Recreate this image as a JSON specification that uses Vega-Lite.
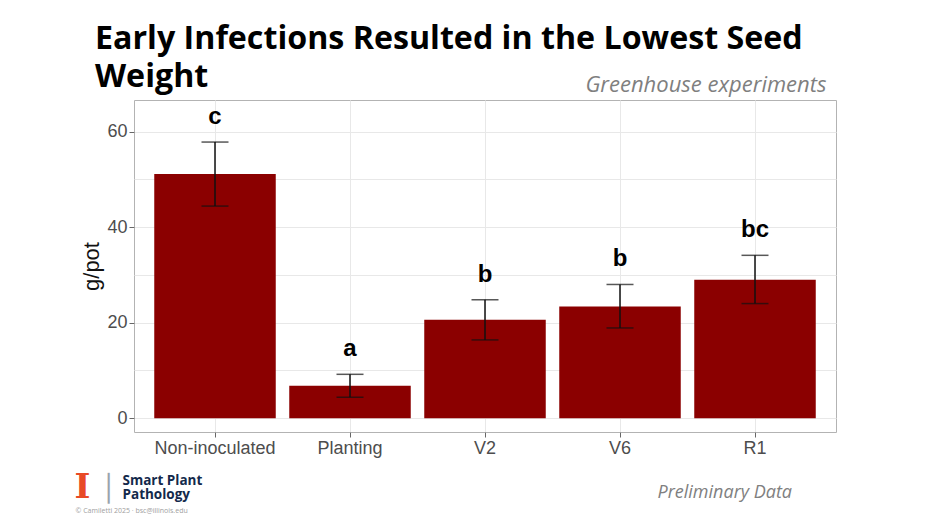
{
  "$schema": "https://vega.github.io/schema/vega-lite/v6.json",
  "width": 702,
  "height": 332,
  "autosize": {"type": "none"},
  "padding": {"left": 134, "top": 100, "right": 91, "bottom": 83},
  "background": "white",
  "title": {
    "text": ["Early Infections Resulted in the Lowest Seed", "Weight"],
    "anchor": "start",
    "frame": "group",
    "font": "Open Sans",
    "fontSize": 32.2,
    "fontWeight": "bold",
    "color": "#000000",
    "lineHeight": 37.5,
    "offset": 0,
    "dx": -39,
    "dy": 21
  },
  "data": {
    "values": [
      {"treatment": "Non-inoculated", "mean": 51.1, "lower": 44.4, "upper": 57.8, "letter": "c"},
      {"treatment": "Planting", "mean": 6.8, "lower": 4.4, "upper": 9.2, "letter": "a"},
      {"treatment": "V2", "mean": 20.6, "lower": 16.4, "upper": 24.8, "letter": "b"},
      {"treatment": "V6", "mean": 23.4, "lower": 18.9, "upper": 28.0, "letter": "b"},
      {"treatment": "R1", "mean": 29.0, "lower": 24.0, "upper": 34.1, "letter": "bc"}
    ]
  },
  "layer": [
    {
      "encoding": {
        "x": {
          "field": "treatment",
          "type": "nominal",
          "sort": null,
          "scale": {"paddingInner": 0.1, "paddingOuter": 0.15},
          "axis": {
            "orient": "bottom",
            "labelAngle": 0,
            "labelFont": "Liberation Sans",
            "labelFontSize": 18,
            "labelColor": "#4d4d4d",
            "labelPadding": 2,
            "tickSize": 5,
            "tickColor": "#666666",
            "domain": false,
            "grid": true,
            "gridColor": "#e8e8e8",
            "bandPosition": 0.5,
            "title": "Preliminary Data",
            "titleFont": "Open Sans",
            "titleFontStyle": "italic",
            "titleFontWeight": "normal",
            "titleFontSize": 18,
            "titleColor": "#808080",
            "titleAlign": "left",
            "titleAnchor": "start",
            "titleBaseline": "alphabetic",
            "titleX": 523,
            "titleY": 65
          }
        }
      },
      "layer": [
        {
          "mark": {"type": "bar", "color": "#8b0000"},
          "encoding": {
            "y": {
              "field": "mean",
              "type": "quantitative",
              "title": "g/pot",
              "scale": {"domain": [-2.87, 66.6], "nice": false, "zero": false},
              "axis": {
                "values": [0, 10, 20, 30, 40, 50, 60],
                "labelExpr": "datum.value % 20 == 0 ? datum.label : ''",
                "tickOpacity": {"condition": {"test": "datum.value % 20 == 0", "value": 1}, "value": 0},
                "tickSize": 5,
                "tickColor": "#666666",
                "domain": false,
                "grid": true,
                "gridColor": "#e8e8e8",
                "labelFont": "Liberation Sans",
                "labelFontSize": 18,
                "labelColor": "#4d4d4d",
                "labelPadding": 2,
                "titleFont": "Liberation Sans",
                "titleFontSize": 22,
                "titleFontWeight": "normal",
                "titleColor": "#111111",
                "titlePadding": 3
              }
            },
            "y2": {"datum": 0}
          }
        },
        {
          "mark": {"type": "rule", "color": "#111111", "strokeWidth": 1.5},
          "encoding": {
            "y": {"field": "lower", "type": "quantitative", "title": "g/pot"},
            "y2": {"field": "upper"}
          }
        },
        {
          "mark": {"type": "tick", "color": "#111111", "size": 27, "thickness": 1.5},
          "encoding": {
            "y": {"field": "upper", "type": "quantitative", "title": "g/pot"}
          }
        },
        {
          "mark": {"type": "tick", "color": "#111111", "size": 27, "thickness": 1.5},
          "encoding": {
            "y": {"field": "lower", "type": "quantitative", "title": "g/pot"}
          }
        },
        {
          "mark": {"type": "text", "font": "Liberation Sans", "fontWeight": "bold", "fontSize": 24, "color": "#000000", "baseline": "alphabetic", "dy": -18},
          "encoding": {
            "y": {"field": "upper", "type": "quantitative", "title": "g/pot"},
            "text": {"field": "letter"}
          }
        }
      ]
    },
    {
      "mark": {"type": "point", "opacity": 0},
      "encoding": {
        "x": {
          "field": "treatment",
          "type": "nominal",
          "sort": null,
          "axis": {
            "orient": "top",
            "labels": false,
            "ticks": false,
            "domain": false,
            "grid": false,
            "title": "Greenhouse experiments",
            "titleFont": "Open Sans",
            "titleFontStyle": "italic",
            "titleFontWeight": "normal",
            "titleFontSize": 22,
            "titleColor": "#7f7f7f",
            "titleAlign": "right",
            "titleAnchor": "end",
            "titleBaseline": "alphabetic",
            "titleX": 692,
            "titleY": -9
          }
        },
        "y": {
          "field": "mean",
          "type": "quantitative",
          "axis": {
            "orient": "right",
            "labels": false,
            "ticks": false,
            "domain": false,
            "grid": false,
            "title": ["Smart Plant", "Pathology"],
            "titleFont": "Open Sans",
            "titleFontWeight": "bold",
            "titleFontSize": 13.5,
            "titleColor": "#13294b",
            "titleAngle": 0,
            "titleAlign": "left",
            "titleAnchor": "start",
            "titleBaseline": "alphabetic",
            "titleLineHeight": 14,
            "titleX": -714,
            "titleY": 384.5
          }
        }
      }
    },
    {
      "mark": {"type": "point", "opacity": 0},
      "encoding": {
        "x": {
          "field": "treatment",
          "type": "nominal",
          "sort": null,
          "axis": {
            "orient": "top",
            "labels": false,
            "ticks": false,
            "domain": false,
            "grid": false,
            "title": "© Camiletti 2025 · bsc@illinois.edu",
            "titleFont": "Open Sans",
            "titleFontWeight": "normal",
            "titleFontSize": 7,
            "titleColor": "#a0a0a0",
            "titleAlign": "left",
            "titleAnchor": "start",
            "titleBaseline": "alphabetic",
            "titleX": -59,
            "titleY": 412
          }
        },
        "y": {
          "field": "mean",
          "type": "quantitative",
          "axis": {
            "orient": "left",
            "labels": false,
            "ticks": false,
            "domain": false,
            "grid": false,
            "title": "I",
            "titleFont": "DejaVu Serif",
            "titleFontWeight": "bold",
            "titleFontSize": 34,
            "titleColor": "#e84a27",
            "titleAngle": 0,
            "titleAlign": "left",
            "titleAnchor": "start",
            "titleBaseline": "alphabetic",
            "titleX": -60,
            "titleY": 397
          }
        }
      }
    },
    {
      "mark": {"type": "point", "opacity": 0},
      "encoding": {
        "x": {"field": "treatment", "type": "nominal", "sort": null, "axis": null},
        "y": {
          "field": "upper",
          "type": "quantitative",
          "axis": {
            "orient": "right",
            "labels": false,
            "ticks": false,
            "domain": false,
            "grid": false,
            "title": "│",
            "titleFont": "DejaVu Sans",
            "titleFontWeight": "normal",
            "titleFontSize": 26,
            "titleColor": "#9aa3ad",
            "titleAngle": 0,
            "titleAlign": "center",
            "titleAnchor": "start",
            "titleBaseline": "alphabetic",
            "titleX": -728,
            "titleY": 396
          }
        }
      }
    }
  ],
  "resolve": {"scale": {"x": "independent", "y": "independent"}},
  "config": {
    "view": {"stroke": "#b3b3b3", "strokeWidth": 1}
  }
}
